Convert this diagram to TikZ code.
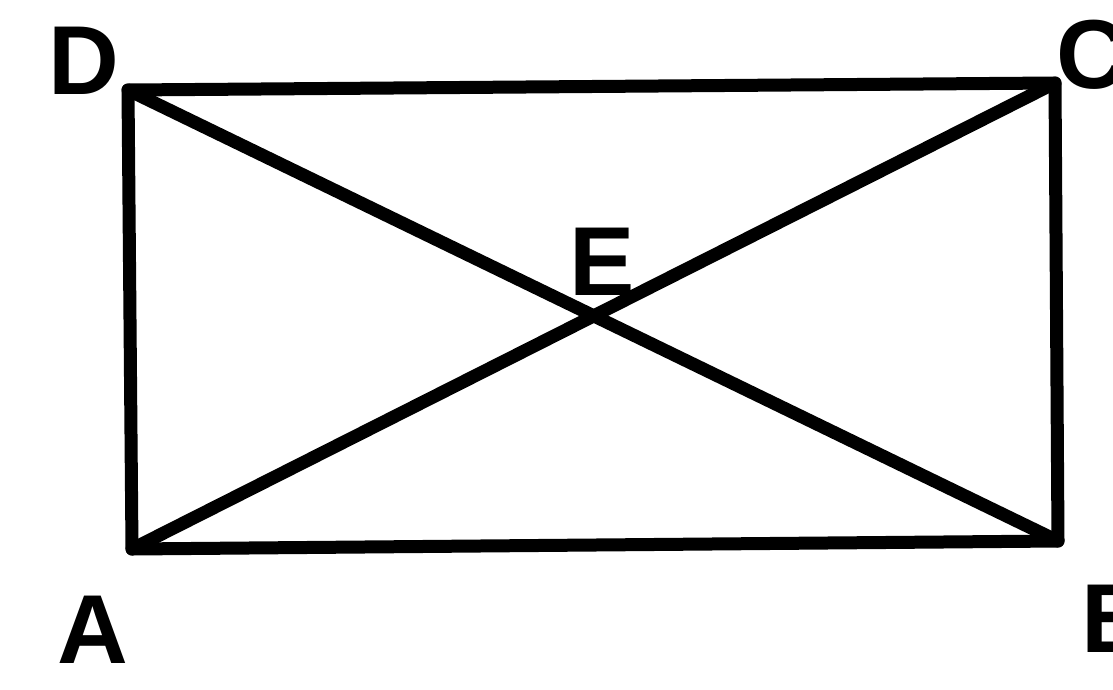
\documentclass[tikz,border=0pt]{standalone}
\usepackage{fontspec}
\setmainfont{Liberation Sans}
\begin{document}
\begin{tikzpicture}[x=1pt,y=-1pt,
  edge/.style={line width=13pt,line cap=round,line join=round},
  lbl/.style={inner sep=0pt,font=\fontsize{98}{98}\selectfont\bfseries}]
\clip (0,0) rectangle (1113,689);
\fill[white] (0,0) rectangle (1113,689);
\coordinate (D) at (128,90);
\coordinate (C) at (1055,83);
\coordinate (A) at (132,549);
\coordinate (B) at (1058,541);
\coordinate (E) at (594,316);
\draw[edge] (A) -- (B) -- (C) -- (D) -- cycle;
\draw[edge] (A) -- (C);
\draw[edge] (D) -- (B);
\node[lbl] (lD) at (84,61) {D};
\node[lbl] (lC) at (1092,55) {C};
\node[lbl] (lA) at (93,630) {A};
\node[lbl] (lB) at (1117,619) {B};
\node[lbl] (lE) at (602,262) {E};
\end{tikzpicture}
\end{document}
